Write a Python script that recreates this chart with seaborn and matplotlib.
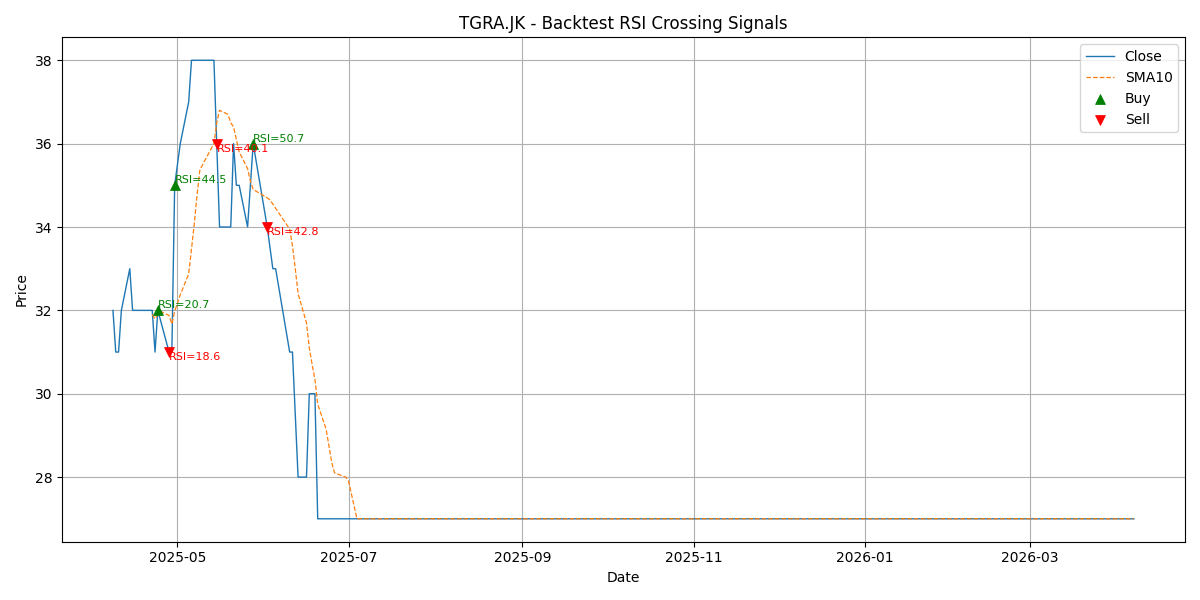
import pandas as pd
import matplotlib
matplotlib.use("Agg")
import matplotlib.pyplot as plt
import seaborn as sns

# --- data ---
ticker = "TGRA.JK"
start_date = "2025-04-08"
end_date = "2026-04-07"
# IDX holidays / days without a row in the data
holidays = ["2025-04-18", "2025-05-01", "2025-05-12", "2025-05-13", "2025-05-29",
            "2025-05-30", "2025-06-06", "2025-06-09", "2025-06-27", "2025-08-18",
            "2025-09-05", "2025-12-25", "2025-12-26", "2025-12-31", "2026-01-01",
            "2026-01-16", "2026-02-16", "2026-02-17", "2026-03-19", "2026-03-20",
            "2026-03-23", "2026-03-24"]

# closes from 2025-04-08 up to 2025-06-20, after that the price stays at 27
close_head = [32, 31, 31, 32, 33, 32, 32, 32, 32, 32,
              31, 32, 31.75, 31, 31, 35, 36, 37, 38, 38,
              38, 38, 38, 36, 34, 34, 34, 36, 35, 35,
              34, 35, 36, 34, 33.5, 33, 33, 31, 31, 29.5,
              28, 28, 30, 30, 30, 27]
close_flat = 27

buy_dates = ["2025-04-24", "2025-04-30", "2025-05-28"]
buy_rsi = [20.7, 44.5, 50.7]
sell_dates = ["2025-04-28", "2025-05-15", "2025-06-02"]
sell_rsi = [18.6, 40.1, 42.8]

# --- build frame ---
dates = pd.bdate_range(start_date, end_date)
dates = dates[~dates.isin(pd.to_datetime(holidays))]
close = close_head + [close_flat] * (len(dates) - len(close_head))
df = pd.DataFrame({"Date": dates, "Close": close})
df["SMA10"] = df["Close"].rolling(10).mean()
df = df.set_index("Date")

buys = df.loc[pd.to_datetime(buy_dates)]
sells = df.loc[pd.to_datetime(sell_dates)]

# --- plot ---
fig, ax = plt.subplots(figsize=(12, 6), dpi=100)
sns.lineplot(x=df.index, y=df["Close"], ax=ax, color="C0", linewidth=1, label="Close")
sns.lineplot(x=df.index, y=df["SMA10"], ax=ax, color="C1", linewidth=0.9,
             linestyle="--", label="SMA10")
sns.scatterplot(x=buys.index, y=buys["Close"], ax=ax, marker="^", color="green",
                edgecolor="green", s=50, label="Buy", zorder=3)
sns.scatterplot(x=sells.index, y=sells["Close"], ax=ax, marker="v", color="red",
                edgecolor="red", s=50, label="Sell", zorder=3)

for d, p, r in zip(buys.index, buys["Close"], buy_rsi):
    ax.text(d, p, f"RSI={r:.1f}", color="green", fontsize=8, va="bottom")
for d, p, r in zip(sells.index, sells["Close"], sell_rsi):
    ax.text(d, p, f"RSI={r:.1f}", color="red", fontsize=8, va="top")

ax.set_title(f"{ticker} - Backtest RSI Crossing Signals")
ax.set_xlabel("Date")
ax.set_ylabel("Price")
ax.grid(True)
ax.legend(loc="upper right")
plt.tight_layout()
plt.savefig("out.png")
